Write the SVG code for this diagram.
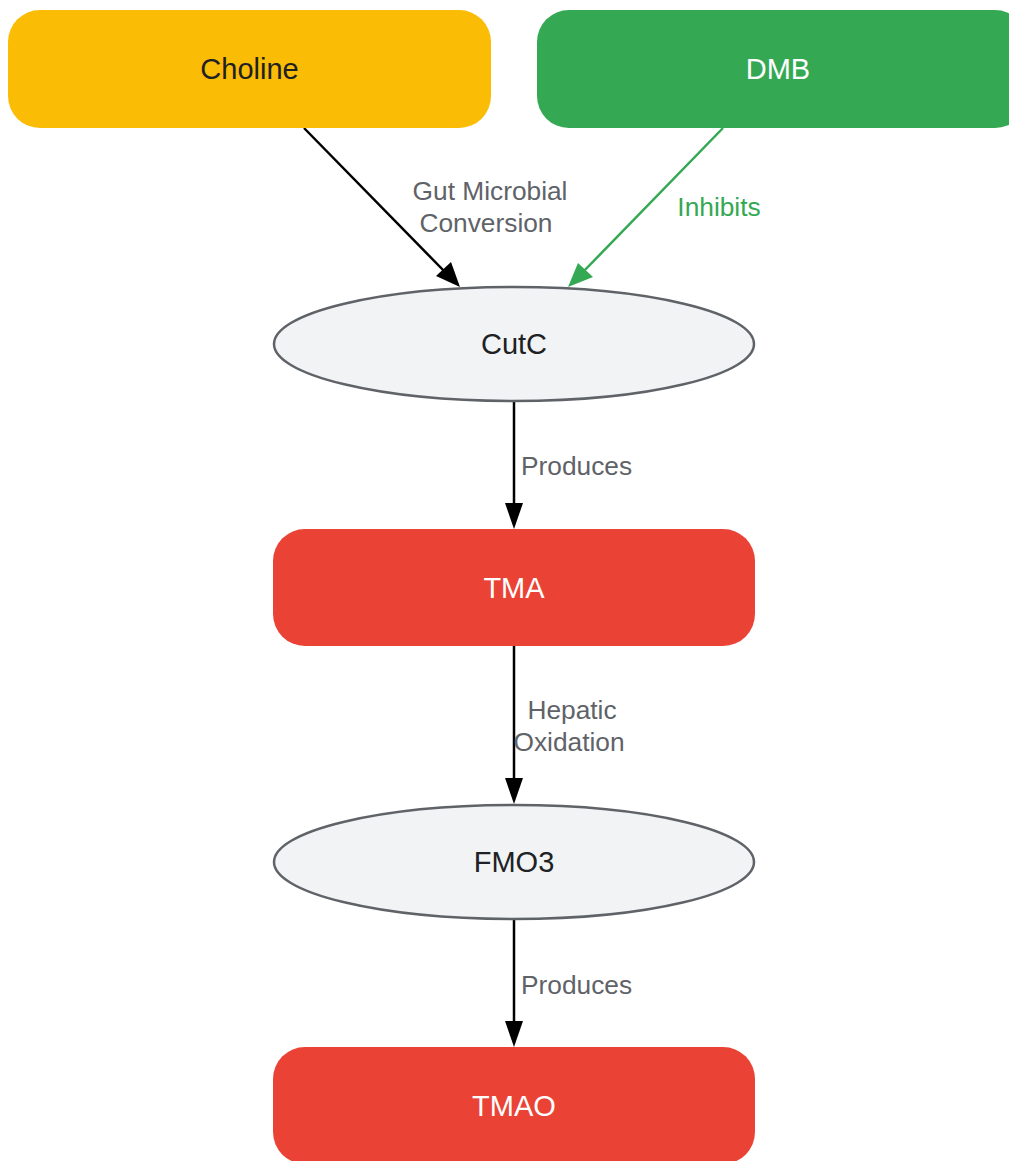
<svg xmlns="http://www.w3.org/2000/svg" width="1009" height="1161" viewBox="0 0 1009 1161">
<style>
.nt{font-family:"Liberation Sans",Arial,sans-serif;font-size:29px;text-anchor:middle}
.lb{font-family:"Liberation Sans",Arial,sans-serif;font-size:26.3px;fill:#5F6368;text-anchor:middle}
.ell{fill:#F1F3F4;stroke:#5F6368;stroke-width:2.5}
.edge{fill:none;stroke:#000;stroke-width:2.5}
.edge.g{stroke:#34A853}
.hb{fill:#000}
.hg{fill:#34A853}
</style>
<rect width="1009" height="1161" fill="#fff"/>
<g id="edges">
<path d="M304,128 L446,273" class="edge"/>
<path d="M460,287 L436,276 L451,262 z" class="hb"/>
<path d="M723,128 L582,273" class="edge g"/>
<path d="M568,287 L578,263 L593,277 z" class="hg"/>
<path d="M514,401 L514,508" class="edge"/>
<path d="M514,529 L505,503 L523,503 z" class="hb"/>
<path d="M514,646 L514,783" class="edge"/>
<path d="M514,804 L505,778 L523,778 z" class="hb"/>
<path d="M514,919 L514,1026" class="edge"/>
<path d="M514,1047 L505,1021 L523,1021 z" class="hb"/>
<text class="lb" x="490" y="200">Gut Microbial</text>
<text class="lb" x="486" y="232">Conversion</text>
<text class="lb" x="719" y="216" style="fill:#34A853">Inhibits</text>
<text class="lb" x="521" y="475" style="text-anchor:start">Produces</text>
<text class="lb" x="572" y="719">Hepatic</text>
<text class="lb" x="569" y="751">Oxidation</text>
<text class="lb" x="521" y="994" style="text-anchor:start">Produces</text>
</g>
<g id="choline">
<rect x="8" y="10" width="483" height="118" rx="32" fill="#FBBC05"/>
<text class="nt" x="249.5" y="79" fill="#202124">Choline</text>
</g>
<g id="dmb">
<rect x="537" y="10" width="490" height="118" rx="32" fill="#34A853"/>
<text class="nt" x="778" y="79" fill="#fff">DMB</text>
</g>
<g id="cutc">
<ellipse class="ell" cx="514" cy="344" rx="240" ry="57"/>
<text class="nt" x="514" y="354" fill="#202124">CutC</text>
</g>
<g id="tma">
<rect x="273" y="529" width="482" height="117" rx="32" fill="#EA4335"/>
<text class="nt" x="514" y="598" fill="#fff">TMA</text>
</g>
<g id="fmo3">
<ellipse class="ell" cx="514" cy="862" rx="240" ry="57"/>
<text class="nt" x="514" y="872" fill="#202124">FMO3</text>
</g>
<g id="tmao">
<rect x="273" y="1047" width="482" height="117" rx="32" fill="#EA4335"/>
<text class="nt" x="514" y="1116" fill="#fff">TMAO</text>
</g>
</svg>
